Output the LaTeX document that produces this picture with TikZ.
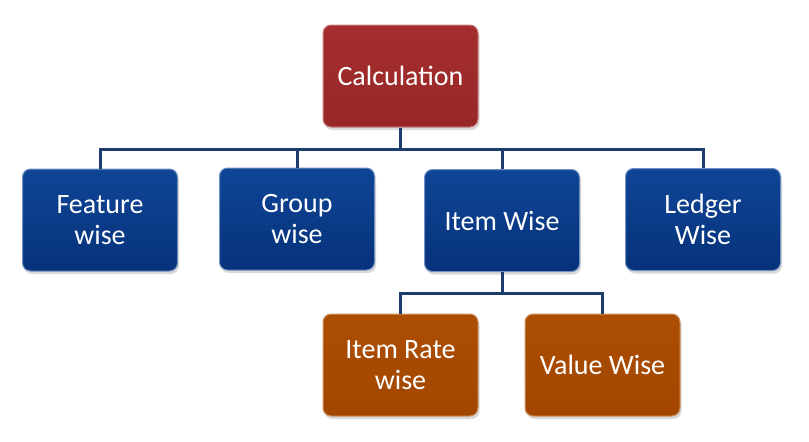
\documentclass[tikz,border=0pt]{standalone}
\usepackage{fontspec}
\setmainfont{Carlito}
\usetikzlibrary{shadows}
\definecolor{bluetop}{HTML}{0F4596}
\definecolor{bluebot}{HTML}{06327A}
\definecolor{redtop}{HTML}{A52D2D}
\definecolor{redbot}{HTML}{972828}
\definecolor{orgtop}{HTML}{AC4E02}
\definecolor{orgbot}{HTML}{A24600}
\definecolor{linkcol}{HTML}{1C3C6E}
\tikzset{
  box/.style={rounded corners=8pt, minimum width=155pt, minimum height=102pt,
    align=center, text=white, font=\fontsize{28}{31}\selectfont,
    drop shadow={shadow xshift=1.5pt, shadow yshift=-3pt, opacity=0.25, fill=black!60}},
  bluebox/.style={box, top color=bluetop, bottom color=bluebot, draw=bluetop!60!white, line width=1pt},
  redbox/.style={box, top color=redtop, bottom color=redbot, draw=redtop!60!white, line width=1pt},
  orgbox/.style={box, top color=orgtop, bottom color=orgbot, draw=orgtop!60!white, line width=1pt},
  link/.style={draw=linkcol, line width=3pt}
}
\begin{document}
\begin{tikzpicture}[x=1pt, y=-1pt]
\useasboundingbox (0,0) rectangle (809,442);
\coordinate (bus) at (0,149);
\coordinate (bus2) at (0,293);
\node[redbox] (calc) at (400.5,76) {Calculation};
\node[bluebox] (feat) at (100,220) {Feature\\wise};
\node[bluebox] (group) at (297,219) {Group\\wise};
\node[bluebox] (item) at (502,220.5) {Item Wise};
\node[bluebox] (ledger) at (703,219.5) {Ledger\\Wise};
\node[orgbox] (rate) at (400.5,365) {Item Rate\\wise};
\node[orgbox] (value) at (602.5,365) {Value Wise};
\draw[link] (calc.south) -- (calc.south |- bus) -| (feat.north);
\draw[link] (calc.south |- bus) -| (group.north);
\draw[link] (calc.south |- bus) -| (item.north);
\draw[link] (calc.south |- bus) -| (ledger.north);
\draw[link] (item.south) -- (item.south |- bus2) -| (rate.north);
\draw[link] (item.south |- bus2) -| (value.north);
\end{tikzpicture}
\end{document}
